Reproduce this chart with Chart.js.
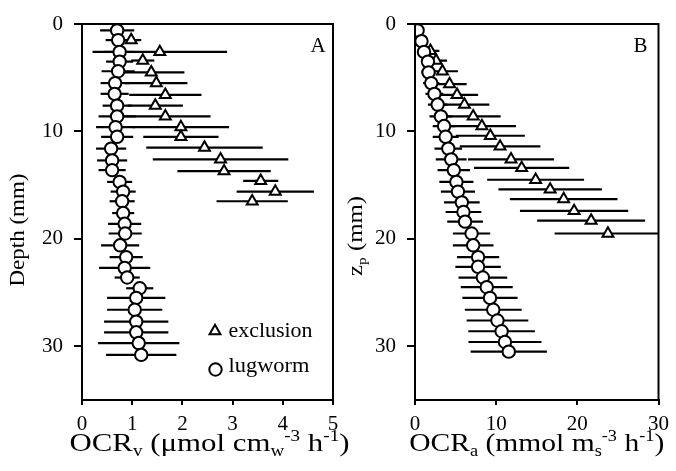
<!DOCTYPE html>
<html><head><meta charset="utf-8">
<script src="https://cdn.jsdelivr.net/npm/chart.js@4/dist/chart.umd.min.js"></script>
<style>
html,body{margin:0;padding:0;background:#fff;}
#wrap{position:relative;width:676px;height:471px;overflow:hidden;background:#fff;}
.panel{position:absolute;top:0;left:0;width:676px;height:471px;}
</style></head><body>
<div id="wrap">
<div class="panel" id="pa"><canvas id="ca" width="676" height="471"></canvas></div>
<div class="panel" id="pb"><canvas id="cb" width="676" height="471"></canvas></div>
</div>
<script>
// ---------- data ----------
const seriesNames = ['exclusion', 'lugworm'];
const panelLabels = ['A', 'B'];
const depthTicks = [0, 10, 20, 30];
const ocrvTicks = [0, 1, 2, 3, 4, 5];
const ocraTicks = [0, 10, 20, 30];

// Panel A: lugworm (circles)
const depthLugA = [0.6,1.5,2.6,3.5,4.4,5.5,6.5,7.6,8.6,9.6,10.5,11.6,12.7,13.6,14.7,15.6,16.5,17.6,18.6,19.5,20.6,21.7,22.7,23.6,24.6,25.5,26.6,27.7,28.7,29.7,30.8];
const ocrvLug = [0.70,0.72,0.75,0.75,0.72,0.66,0.65,0.70,0.70,0.67,0.70,0.58,0.60,0.60,0.75,0.82,0.80,0.82,0.85,0.86,0.76,0.88,0.85,0.90,1.15,1.08,1.05,1.08,1.08,1.13,1.18];
const ocrvLugErr = [0.34,0.25,0.30,0.27,0.33,0.29,0.28,0.29,0.37,0.39,0.32,0.30,0.30,0.27,0.25,0.25,0.25,0.22,0.33,0.33,0.38,0.33,0.51,0.25,0.27,0.58,0.55,0.64,0.64,0.81,0.70];
// Panel A: exclusion (triangles)
const depthExcA = [1.5,2.6,3.4,4.5,5.5,6.6,7.6,8.6,9.6,10.5,11.5,12.6,13.7,14.6,15.6,16.5];
const ocrvExc = [0.98,1.55,1.21,1.38,1.48,1.66,1.46,1.66,1.97,1.97,2.44,2.76,2.83,3.56,3.85,3.39];
const ocrvExcErr = [0.20,1.34,0.23,0.66,0.62,0.72,0.55,0.90,0.96,0.75,1.16,1.35,0.93,0.35,0.77,0.71];

// Panel B: lugworm (circles)
const zpLugB = [0.6,1.6,2.6,3.5,4.5,5.5,6.5,7.5,8.6,9.5,10.5,11.6,12.6,13.6,14.7,15.6,16.6,17.5,18.4,19.5,20.6,21.7,22.6,23.6,24.5,25.5,26.6,27.6,28.6,29.6,30.5];
const ocraLug = [0.32,0.80,1.11,1.59,1.67,2.00,2.39,2.79,3.19,3.58,3.78,4.10,4.46,4.78,5.10,5.29,5.77,5.97,6.17,6.97,7.17,7.77,7.77,8.36,8.84,9.24,9.64,10.16,10.67,11.08,11.55];
const ocraLugErr = [0.3,0.4,0.6,0.8,0.9,1.0,1.1,1.2,1.4,1.4,1.6,1.7,1.9,2.0,2.1,2.1,2.2,2.2,2.2,2.3,2.5,2.6,2.8,3.0,3.2,3.4,3.5,3.8,4.1,4.5,4.7];
// Panel B: exclusion (triangles)
const zpExcB = [2.5,3.4,4.4,5.6,6.6,7.5,8.6,9.5,10.4,11.4,12.6,13.4,14.5,15.4,16.3,17.4,18.3,19.5];
const ocraExc = [1.9,2.6,3.38,4.26,5.18,6.09,7.17,8.24,9.28,10.48,11.83,13.14,14.86,16.65,18.32,19.60,21.70,23.77];
const ocraExcErr = [1.1,1.35,1.91,2.10,2.59,3.07,3.38,4.20,4.25,4.97,5.30,5.86,5.97,6.37,6.63,6.67,6.65,6.57];

// axis title texts (rich: sub / sup)
const titleXA = [{t:'OCR'},{t:'v',sub:1},{t:' (\u03bcmol cm'},{t:'w',sub:1},{t:'-3',sup:1},{t:' h'},{t:'-1',sup:1},{t:')'}];
const titleXB = [{t:'OCR'},{t:'a',sub:1},{t:' (mmol m'},{t:'s',sub:1},{t:'-3',sup:1},{t:' h'},{t:'-1',sup:1},{t:')'}];
const titleYA = [{t:'Depth (mm)'}];
const titleYB = [{t:'z'},{t:'p',sub:1},{t:' (mm)'}];

// ---------- helpers ----------
const FAM = '"Liberation Serif", "Times New Roman", serif';
function pts(xs, ys){ return xs.map((v,i)=>({x:v, y:ys[i]})); }
function richWidth(ctx, segs, size){
  let w = 0;
  segs.forEach(s=>{ ctx.font = ((s.sub||s.sup)?size*0.62:size)+'px '+FAM; w += ctx.measureText(s.t).width; });
  return w;
}
function drawRich(ctx, segs, size, px, py, targetW, angle){
  ctx.save();
  ctx.translate(px, py);
  if (angle) ctx.rotate(angle);
  const w = richWidth(ctx, segs, size);
  const sx = targetW ? targetW / w : 1;
  ctx.scale(sx, 1);
  let x = -w/2;
  ctx.textAlign = 'left'; ctx.textBaseline = 'alphabetic'; ctx.fillStyle = '#000';
  segs.forEach(s=>{
    const sz = (s.sub||s.sup) ? size*0.62 : size;
    ctx.font = sz+'px '+FAM;
    const dy = s.sub ? size*0.2 : (s.sup ? -size*0.4 : 0);
    ctx.fillText(s.t, x, dy);
    x += ctx.measureText(s.t).width;
  });
  ctx.restore();
}
function drawTri(ctx, x, y, r){
  ctx.beginPath();
  let rad = 0;
  ctx.moveTo(x + Math.sin(rad)*r, y - Math.cos(rad)*r);
  rad += 2*Math.PI/3; ctx.lineTo(x + Math.sin(rad)*r, y - Math.cos(rad)*r);
  rad += 2*Math.PI/3; ctx.lineTo(x + Math.sin(rad)*r, y - Math.cos(rad)*r);
  ctx.closePath(); ctx.fillStyle='#fff'; ctx.fill(); ctx.lineWidth=2; ctx.strokeStyle='#000'; ctx.stroke();
}
function drawCirc(ctx, x, y, r){
  ctx.beginPath(); ctx.arc(x, y, r, 0, Math.PI*2);
  ctx.fillStyle='#fff'; ctx.fill(); ctx.lineWidth=2; ctx.strokeStyle='#000'; ctx.stroke();
}

const errorBarPlugin = {
  id: 'errbars',
  beforeDatasetsDraw(chart){
    const {ctx, chartArea:a, scales:{x, y}} = chart;
    ctx.save();
    ctx.beginPath(); ctx.rect(a.left, a.top, a.right-a.left, a.bottom-a.top); ctx.clip();
    ctx.strokeStyle = '#000'; ctx.lineWidth = 2.2;
    chart.data.datasets.forEach(ds=>{
      ds.data.forEach((p, i)=>{
        const e = ds.errors[i];
        const py = y.getPixelForValue(p.y);
        ctx.beginPath();
        ctx.moveTo(x.getPixelForValue(p.x - e), py);
        ctx.lineTo(x.getPixelForValue(p.x + e), py);
        ctx.stroke();
      });
    });
    ctx.restore();
  }
};

const decorPlugin = {
  id: 'decor',
  afterDraw(chart, args, o){
    const {ctx, chartArea:a} = chart;
    ctx.save();
    ctx.strokeStyle = '#000'; ctx.lineWidth = 2;
    ctx.strokeRect(a.left, a.top, a.right-a.left, a.bottom-a.top);
    ctx.restore();
    // panel letter
    ctx.save();
    ctx.font = '21px '+FAM; ctx.fillStyle='#000'; ctx.textAlign='center'; ctx.textBaseline='alphabetic';
    ctx.fillText(o.letter, a.right - o.letterDx, a.top + 28);
    ctx.restore();
    // axis titles
    drawRich(ctx, o.xTitle, 26, (a.left+a.right)/2 + o.xTitleDx, a.bottom + 51, o.xTitleW, 0);
    drawRich(ctx, o.yTitle, 21, a.left - o.yTitleDx, o.yTitleCy, o.yTitleW, -Math.PI/2);
    // legend
    if (o.legend){
      const lx = a.left + 133, tx = a.left + 146.5;
      drawTri(ctx, lx, 331, 6.3);
      drawCirc(ctx, lx + 0.5, 369.5, 6.2);
      ctx.save(); ctx.fillStyle='#000'; ctx.textAlign='left'; ctx.textBaseline='alphabetic';
      ctx.font = '21px '+FAM;
      ctx.translate(tx, 337); ctx.scale(84/ctx.measureText(seriesNames[0]).width, 1);
      ctx.fillText(seriesNames[0], 0, 0);
      ctx.restore();
      ctx.save(); ctx.fillStyle='#000'; ctx.textAlign='left'; ctx.textBaseline='alphabetic';
      ctx.font = '21px '+FAM;
      ctx.translate(tx, 372); ctx.scale(81/ctx.measureText(seriesNames[1]).width, 1);
      ctx.fillText(seriesNames[1], 0, 0);
      ctx.restore();
    }
  }
};

function makeChart(id, cfg){
  const tickFont = {family: FAM, size: 21};
  return new Chart(document.getElementById(id), {
    type: 'scatter',
    data: {
      datasets: [
        { label: seriesNames[1], data: pts(cfg.lugX, cfg.lugY), errors: cfg.lugE,
          pointStyle: 'circle', pointRadius: 6.2, pointBorderWidth: 2,
          pointBackgroundColor: '#fff', pointBorderColor: '#000', showLine: false },
        { label: seriesNames[0], data: pts(cfg.excX, cfg.excY), errors: cfg.excE,
          pointStyle: 'triangle', pointRadius: 6.3, pointBorderWidth: 2,
          pointBackgroundColor: '#fff', pointBorderColor: '#000', showLine: false }
      ]
    },
    options: {
      responsive: false, animation: false, devicePixelRatio: 1,
      layout: { padding: { left: cfg.padLeft, top: 24, right: cfg.padRight, bottom: 0 } },
      plugins: { legend: {display: false}, tooltip: {enabled: false},
        decor: cfg.decor },
      scales: {
        x: { type: 'linear', min: cfg.xMin, max: cfg.xMax,
          afterBuildTicks: s => { s.ticks = cfg.xTicks.map(v=>({value:v})); },
          afterFit: s => { s.height = 71; },
          grid: { drawOnChartArea: false, drawTicks: true, tickLength: 5, color: '#000', lineWidth: 2 },
          border: { display: true, color: '#000', width: 2 },
          ticks: { color: '#000', font: tickFont, padding: 7, maxRotation: 0, autoSkip: false } },
        y: { type: 'linear', reverse: true, min: 0, max: 35,
          afterBuildTicks: s => { s.ticks = depthTicks.map(v=>({value:v})); },
          afterFit: s => { s.width = cfg.yWidth; },
          grid: { drawOnChartArea: false, drawTicks: true, tickLength: 8, color: '#000', lineWidth: 2 },
          border: { display: true, color: '#000', width: 2 },
          ticks: { color: '#000', font: tickFont, padding: 11, autoSkip: false } }
      }
    },
    plugins: [errorBarPlugin, decorPlugin]
  });
}

makeChart('ca', {
  lugX: ocrvLug, lugY: depthLugA, lugE: ocrvLugErr,
  excX: ocrvExc, excY: depthExcA, excE: ocrvExcErr,
  xMin: 0, xMax: 5, xTicks: ocrvTicks, yWidth: 82, padLeft: 0, padRight: 343,
  decor: { letter: panelLabels[0], letterDx: 15, xTitle: titleXA, xTitleDx: 2, xTitleW: 280,
    yTitle: titleYA, yTitleDx: 58, yTitleCy: 230, yTitleW: 113, legend: true }
});
makeChart('cb', {
  lugX: ocraLug, lugY: zpLugB, lugE: ocraLugErr,
  excX: ocraExc, excY: zpExcB, excE: ocraExcErr,
  xMin: 0, xMax: 30, xTicks: ocraTicks, yWidth: 70, padLeft: 345, padRight: 10,
  decor: { letter: panelLabels[1], letterDx: 18, xTitle: titleXB, xTitleDx: 0, xTitleW: 255,
    yTitle: titleYB, yTitleDx: 53, yTitleCy: 236, yTitleW: 80, legend: false }
});
</script>
</body></html>
